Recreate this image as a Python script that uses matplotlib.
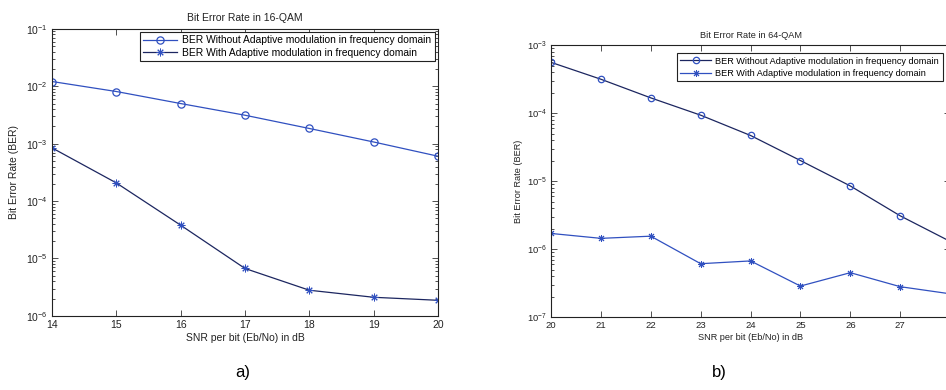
import matplotlib
matplotlib.use('Agg')
import matplotlib.pyplot as plt
from matplotlib.ticker import LogLocator, NullFormatter

plt.rcParams['font.family'] = ['Liberation Sans', 'DejaVu Sans']
plt.rcParams['mathtext.default'] = 'regular'

# %% data
snr_16 = [14, 15, 16, 17, 18, 19, 20]
ber_16_no_adapt = [1.21e-2, 8.1e-3, 5.0e-3, 3.13e-3, 1.84e-3, 1.07e-3, 6.05e-4]
ber_16_adapt = [8.45e-4, 2.07e-4, 3.8e-5, 6.7e-6, 2.8e-6, 2.11e-6, 1.87e-6]

snr_64 = [20, 21, 22, 23, 24, 25, 26, 27, 28]
ber_64_no_adapt = [5.6e-4, 3.16e-4, 1.68e-4, 9.35e-5, 4.7e-5, 2.01e-5, 8.5e-6, 3.09e-6, 1.3e-6]
ber_64_adapt = [1.7e-6, 1.44e-6, 1.55e-6, 6.1e-7, 6.7e-7, 2.86e-7, 4.5e-7, 2.8e-7, 2.2e-7]
xticks_64 = [20, 21, 22, 23, 24, 25, 26, 27, 28]
xticklabels_64 = ['20', '21', '22', '23', '24', '25', '26', '27', '']

lbl_no = 'BER Without Adaptive modulation in frequency domain'
lbl_ad = 'BER With Adaptive modulation in frequency domain'

blue = '#3050c0'
navy = '#1c2660'
star = (8, 2, 0)  # matlab style asterisk

fig = plt.figure(figsize=(9.46, 3.9), dpi=100)


def style_axes(ax, fs):
    ax.set_yscale('log')
    ax.yaxis.set_major_locator(LogLocator(base=10, numticks=20))
    ax.yaxis.set_minor_locator(LogLocator(base=10, subs=range(2, 10), numticks=20))
    ax.yaxis.set_minor_formatter(NullFormatter())
    ax.tick_params(which='both', direction='in', top=True, right=True,
                   labelsize=fs, width=0.6, color='#333333', labelcolor='#222222')
    ax.tick_params(axis='y', pad=3)
    ax.tick_params(axis='x', pad=3)
    ax.tick_params(which='major', length=4)
    ax.tick_params(which='minor', length=2)
    for s in ax.spines.values():
        s.set_linewidth(0.8)
        s.set_color('#222222')


# %% a) 16-QAM
ax1 = fig.add_axes([0.055, 0.19, 0.408, 0.736])
ax1.plot(snr_16, ber_16_no_adapt, '-o', color=blue, lw=0.9, ms=5.2,
         mfc='none', mec=blue, mew=0.9, label=lbl_no)
ax1.plot(snr_16, ber_16_adapt, '-', marker=star, color=navy, lw=0.9, ms=5.5,
         mfc=blue, mec=blue, mew=0.7, label=lbl_ad)
ax1.set_xlim(14, 20)
ax1.set_ylim(1e-6, 1e-1)
style_axes(ax1, 7.5)
ax1.set_title('Bit Error Rate in 16-QAM', fontsize=7.5, pad=6, color='#222222')
ax1.set_xlabel('SNR per bit (Eb/No) in dB', fontsize=7.5, labelpad=2, color='#222222')
ax1.set_ylabel('Bit Error Rate (BER)', fontsize=7.5, labelpad=5, color='#222222')
leg1 = ax1.legend(loc='upper right', bbox_to_anchor=(0.992, 0.99), fontsize=7.4,
                  fancybox=False, edgecolor='#222222', framealpha=1,
                  handlelength=3.3, borderaxespad=0, borderpad=0.35,
                  labelspacing=0.25, handletextpad=0.5)
leg1.get_frame().set_linewidth(0.8)
fig.text(0.257, 0.025, 'a)', fontsize=12, ha='center', va='bottom')

# %% b) 64-QAM
ax2 = fig.add_axes([0.5825, 0.187, 0.4218, 0.697])
ax2.plot(snr_64, ber_64_no_adapt, '-o', color=navy, lw=0.9, ms=4.6,
         mfc='none', mec=blue, mew=0.9, label=lbl_no)
ax2.plot(snr_64, ber_64_adapt, '-', marker=star, color=blue, lw=0.9, ms=5,
         mfc=blue, mec=blue, mew=0.7, label=lbl_ad)
ax2.set_xlim(20, 28)
ax2.set_ylim(1e-7, 1e-3)
ax2.set_xticks(xticks_64)
ax2.set_xticklabels(xticklabels_64)
style_axes(ax2, 6.8)
ax2.set_title('Bit Error Rate in 64-QAM', fontsize=6.6, pad=5, color='#222222')
ax2.set_xlabel('SNR per bit (Eb/No) in dB', fontsize=6.6, labelpad=2, color='#222222')
ax2.set_ylabel('Bit Error Rate (BER)', fontsize=6.6, labelpad=3, color='#222222')
leg2 = ax2.legend(loc='upper left', bbox_to_anchor=(0.315, 0.972), fontsize=6.6,
                  fancybox=False, edgecolor='#222222', framealpha=1,
                  handlelength=3.3, borderaxespad=0, borderpad=0.4,
                  labelspacing=0.35, handletextpad=0.5)
leg2.get_frame().set_linewidth(0.8)
fig.text(0.76, 0.025, 'b)', fontsize=12, ha='center', va='bottom')

fig.savefig('out.png', dpi=100)
